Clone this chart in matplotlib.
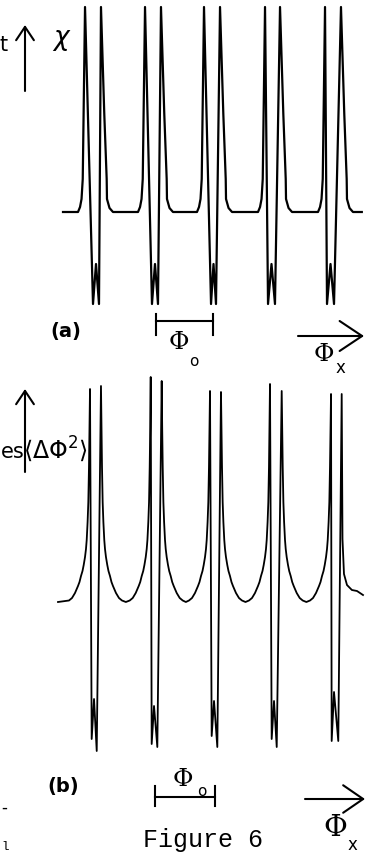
import matplotlib
matplotlib.use("Agg")
import matplotlib.pyplot as plt
from matplotlib.patches import FancyArrowPatch

# ---------------- data (x in units of flux quantum, y in arbitrary units) ----
# panel (a): susceptibility chi vs applied flux
a_top_left = [0.867, 1.867, 2.85, 3.867, 4.867]
a_top_right = [1.133, 2.133, 3.117, 4.117, 5.133]
a_bot_left = [1.0, 1.983, 2.967, 3.917, 4.9]
a_bot_right = [1.1, 2.083, 3.05, 4.033, 5.017]
a_top = 2.05
a_bottom = -0.92
a_hump = -0.52
a_baseline = 0.0
a_start, a_end = 0.5, 5.48
a_leg_left_dx = [-0.117, -0.083, -0.058, -0.038, 0.0]
a_leg_left_y = [0.0, 0.05, 0.13, 0.33, 2.05]
a_leg_right_dx = [0.0, 0.055, 0.095, 0.10, 0.142, 0.20]
a_leg_right_y = [2.05, 0.98, 0.33, 0.13, 0.04, 0.0]

# panel (b): flux fluctuations <dPhi^2> vs applied flux
b_top_left = [0.95, 1.962, 2.95, 3.95, 4.967]
b_top_right = [1.133, 2.145, 3.133, 4.145, 5.145]
b_top_left_y = [2.13, 2.25, 2.11, 2.18, 2.08]
b_top_right_y = [2.16, 2.21, 2.10, 2.11, 2.08]
b_bot_left = [0.978, 1.978, 2.978, 3.978, 4.978]
b_bot_left_y = [-1.37, -1.42, -1.34, -1.37, -1.39]
b_hump_x = [1.017, 2.017, 3.017, 4.017, 5.017]
b_hump_y = [-0.97, -1.04, -0.99, -0.99, -0.90]
b_bot_right = [1.062, 2.072, 3.072, 4.062, 5.088]
b_bot_right_y = [-1.49, -1.45, -1.45, -1.45, -1.39]
b_bowl_d = [0.008, 0.017, 0.028, 0.04, 0.055, 0.067, 0.083, 0.105, 0.125, 0.15, 0.175, 0.2, 0.25, 0.3, 0.35]
b_bowl_y = [1.75, 1.35, 1.0, 0.80, 0.62, 0.53, 0.45, 0.37, 0.31, 0.26, 0.2, 0.16, 0.09, 0.04, 0.015]
b_bowl_min = 0.0
b_start = 0.417
b_tail_d = [0.013, 0.038, 0.088, 0.17, 0.255, 0.305, 0.355]
b_tail_y = [0.63, 0.28, 0.17, 0.12, 0.11, 0.09, 0.07]

# scale bars (one flux quantum)
a_scale = (2.05, 3.0)
a_scale_y = -1.09
b_scale = (2.03, 3.03)
b_scale_y = -1.95

# ---------------- build curves from the listed values ----------------
def curve_a():
    xs, ys = [a_start], [a_baseline]
    for i in range(len(a_top_left)):
        for dx, y in zip(a_leg_left_dx, a_leg_left_y):
            xs.append(a_top_left[i] + dx); ys.append(y)
        xs += [a_bot_left[i], (a_bot_left[i] + a_bot_right[i]) / 2, a_bot_right[i]]
        ys += [a_bottom, a_hump, a_bottom]
        for dx, y in zip(a_leg_right_dx, a_leg_right_y):
            xs.append(a_top_right[i] + dx); ys.append(y)
    xs.append(a_end); ys.append(a_baseline)
    return xs, ys


def curve_b():
    xs, ys = [b_start], [b_bowl_min]
    n = len(b_top_left)
    for i in range(n):
        if i == 0:
            lim = b_top_left[0] - b_start
        else:
            lim = (b_top_left[i] - b_top_right[i - 1]) / 2
        for d, y in reversed(list(zip(b_bowl_d, b_bowl_y))):
            if d < lim:
                xs.append(b_top_left[i] - d); ys.append(y)
        xs += [b_top_left[i], b_bot_left[i], b_hump_x[i], b_bot_right[i], b_top_right[i]]
        ys += [b_top_left_y[i], b_bot_left_y[i], b_hump_y[i], b_bot_right_y[i], b_top_right_y[i]]
        if i < n - 1:
            half = (b_top_left[i + 1] - b_top_right[i]) / 2
            for d, y in zip(b_bowl_d, b_bowl_y):
                if d < half:
                    xs.append(b_top_right[i] + d); ys.append(y)
            xs.append(b_top_right[i] + half); ys.append(b_bowl_min)
        else:
            for d, y in zip(b_tail_d, b_tail_y):
                xs.append(b_top_right[i] + d); ys.append(y)
    return xs, ys


W, H = 365, 854
fig = plt.figure(figsize=(W / 100, H / 100), dpi=100)
fig.patch.set_facecolor("white")


def P(px, py):
    return (px / W, 1 - py / H)


# panel (a)
axA = fig.add_axes([0, 1 - 345 / H, 1, 345 / H])
axA.set_xlim(-33 / 60, (W - 33) / 60)
axA.set_ylim((213 - 345) / 100, 213 / 100)
axA.axis("off")
xa, ya = curve_a()
axA.plot(xa, ya, color="black", lw=1.6, solid_joinstyle="round")
axA.plot(list(a_scale), [a_scale_y] * 2, color="black", lw=1.5, clip_on=False)
for xv in a_scale:
    axA.plot([xv, xv], [a_scale_y + 0.07, a_scale_y - 0.14], color="black", lw=1.5, clip_on=False)

# panel (b)
axB = fig.add_axes([0, 0, 1, 1 - 345 / H])
axB.set_xlim(-33 / 60, (W - 33) / 60)
axB.set_ylim((603 - H) / 100, (603 - 345) / 100)
axB.axis("off")
xb, yb = curve_b()
axB.plot(xb, yb, color="black", lw=1.3, solid_joinstyle="round")
axB.plot(list(b_scale), [b_scale_y] * 2, color="black", lw=1.5, clip_on=False)
for xv in b_scale:
    axB.plot([xv, xv], [b_scale_y + 0.11, b_scale_y - 0.09], color="black", lw=1.5, clip_on=False)


def arrow(p0, p1, lw=1.5, hl=0.7, hw=0.45, ms=18):
    fig.add_artist(FancyArrowPatch(P(*p0), P(*p1), transform=fig.transFigure,
                                   arrowstyle=f"->,head_length={hl},head_width={hw}",
                                   mutation_scale=ms, lw=lw, color="black",
                                   shrinkA=0, shrinkB=0))


phi_font = dict(family="DejaVu Serif", color="black")

# --- annotations panel (a)
fig.text(*P(0, 45), "t", fontsize=15, ha="left", va="center", family="DejaVu Sans")
arrow((25, 92), (25, 26), ms=16, hl=0.6, hw=0.4)
fig.text(*P(62, 40), r"$\chi$", fontsize=19, ha="center", va="center")
fig.text(*P(66, 331), "(a)", fontsize=14, fontweight="bold", ha="center", va="center")
fig.text(*P(179, 343), "Φ", fontsize=18, ha="center", va="center", **phi_font)
fig.text(*P(194, 362), "o", fontsize=11, ha="center", va="center", family="DejaVu Sans")
arrow((298, 337), (364, 337), ms=18, hl=0.9, hw=0.6)
fig.text(*P(324, 355), "Φ", fontsize=18, ha="center", va="center", **phi_font)
fig.text(*P(340, 368), "x", fontsize=12, ha="center", va="center", family="DejaVu Sans")

# --- annotations panel (b)
arrow((25, 473), (25, 390), ms=16, hl=0.6, hw=0.4)
fig.text(*P(1, 452), "es", fontsize=15, ha="left", va="center", family="DejaVu Sans")
fig.text(*P(23, 449), r"$\langle\Delta\Phi^{2}\rangle$", fontsize=17, ha="left", va="center")
fig.text(*P(63, 787), "(b)", fontsize=14, fontweight="bold", ha="center", va="center")
fig.text(*P(183, 780), "Φ", fontsize=18, ha="center", va="center", **phi_font)
fig.text(*P(202, 792), "o", fontsize=11, ha="center", va="center", family="DejaVu Sans")
arrow((305, 800), (365, 800), ms=18, hl=0.8, hw=0.55)
fig.text(*P(335, 828), "Φ", fontsize=21, ha="center", va="center", **phi_font)
fig.text(*P(352, 845), "x", fontsize=12, ha="center", va="center", family="DejaVu Sans")
fig.text(*P(1, 808), "-", fontsize=12, ha="left", va="center", family="DejaVu Sans")
fig.text(*P(1, 850), "l", fontsize=9, ha="left", va="baseline", family="Liberation Mono")
fig.text(*P(143, 847), "Figure 6", fontsize=18, ha="left", va="baseline", family="Liberation Mono")

fig.savefig("out.png", dpi=100, facecolor="white")
